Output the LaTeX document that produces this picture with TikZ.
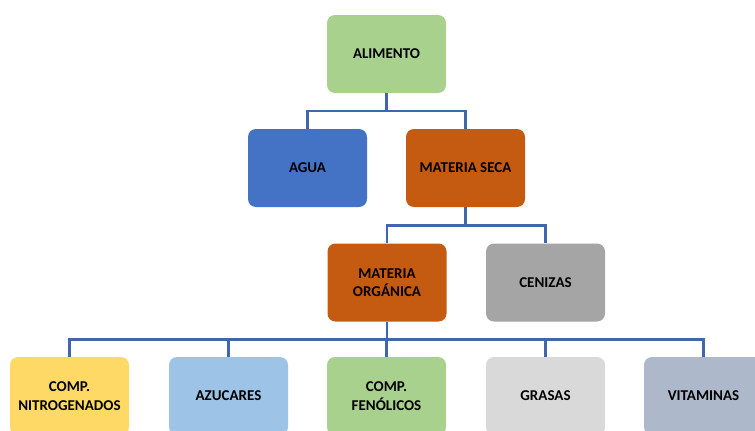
\documentclass[tikz,border=0pt]{standalone}
\usepackage{fontspec}
\setmainfont{Carlito}
\usetikzlibrary{calc}
\newcommand*{\bwd }{119pt}
\newcommand*{\bht }{78pt}
\newcommand*{\rowa}{54}
\newcommand*{\rowb}{168}
\newcommand*{\rowc}{282.5}
\newcommand*{\rowd}{396}
\definecolor{cverde}{HTML}{A9D18E}
\definecolor{cazul}{HTML}{4472C4}
\definecolor{clinea}{HTML}{4166AC}
\definecolor{cnaranja}{HTML}{C55A11}
\definecolor{cgris}{HTML}{A5A5A5}
\definecolor{camarillo}{HTML}{FFD966}
\definecolor{ccielo}{HTML}{9DC3E6}
\definecolor{cplata}{HTML}{D9D9D9}
\definecolor{cpizarra}{HTML}{ADB9CA}

\begin{document}
\begin{tikzpicture}[x=1pt, y=-1pt,
    caja/.style={rounded corners=8pt, minimum width=\bwd, minimum height=\bht,
        align=center, inner sep=2pt, font=\fontsize{15}{18.5}\selectfont\bfseries},
    enlace/.style={draw=clinea, line width=2.5pt}]
    \useasboundingbox (0,0) rectangle (755,431);
    \clip (0,0) rectangle (755,431);
    % nivel 1 y 2
    \node [caja, fill=cverde]   (alimento) at (386.5,\rowa) {ALIMENTO};
    \node [caja, fill=cazul]    (agua)     at (307.5,\rowb) {AGUA};
    \node [caja, fill=cnaranja] (seca)     at (465.5,\rowb) {MATERIA SECA};
    % nivel 3
    \node [caja, fill=cnaranja] (organica) at (387,\rowc)   {MATERIA\\ORGÁNICA};
    \node [caja, fill=cgris]    (cenizas)  at (545.5,\rowc) {CENIZAS};
    % nivel 4
    \node [caja, fill=camarillo] (nitro)  at ( 69.5,\rowd) {COMP.\\NITROGENADOS};
    \node [caja, fill=ccielo]    (azucar) at (228.5,\rowd) {AZUCARES};
    \node [caja, fill=cverde]    (fenol)  at (386.5,\rowd) {COMP.\\FENÓLICOS};
    \node [caja, fill=cplata]    (grasas) at (545.5,\rowd) {GRASAS};
    \node [caja, fill=cpizarra]  (vitam)  at (703.5,\rowd) {VITAMINAS};
    % enlaces
    \coordinate (ja) at ($(alimento.south)!0.5!(alimento.south|-agua.north)$);
    \draw [enlace] (alimento.south) -- (ja);
    \draw [enlace] (ja) -| (agua.north);
    \draw [enlace] (ja) -| (seca.north);
    \coordinate (jb) at ($(seca.south)!0.5!(seca.south|-organica.north)$);
    \draw [enlace] (seca.south) -- (jb);
    \draw [enlace] (jb) -| (organica.north);
    \draw [enlace] (jb) -| (cenizas.north);
    \coordinate (jc) at ($(organica.south)!0.5!(organica.south|-fenol.north)$);
    \draw [enlace] (organica.south) -- (jc);
    \draw [enlace] (jc) -| (nitro.north);
    \draw [enlace] (jc) -| (azucar.north);
    \draw [enlace] (jc) -| (fenol.north);
    \draw [enlace] (jc) -| (grasas.north);
    \draw [enlace] (jc) -| (vitam.north);
\end{tikzpicture}
\end{document}
